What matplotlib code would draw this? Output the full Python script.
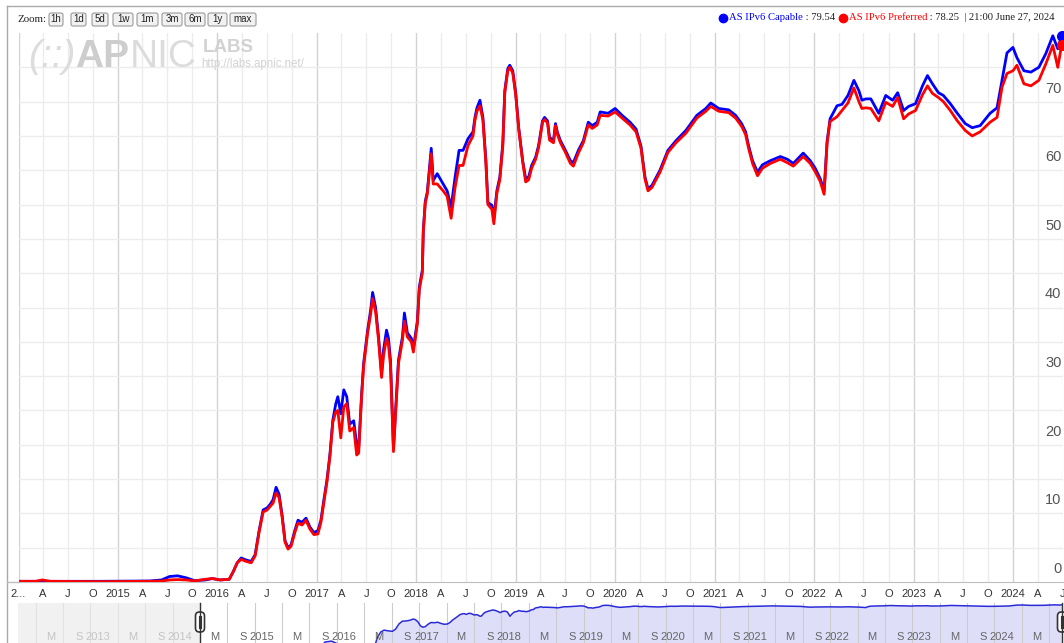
import matplotlib
matplotlib.use("Agg")
import matplotlib.pyplot as plt
from matplotlib.lines import Line2D
from matplotlib.patches import FancyBboxPatch
from matplotlib.transforms import IdentityTransform, blended_transform_factory, offset_copy
from datetime import datetime

W, H = 1064, 643

# samples (decimal years), AS IPv6 capable / preferred in %
years = [2014.00, 2014.17, 2014.24, 2014.32, 2014.82, 2015.32, 2015.44, 2015.52, 2015.60, 2015.69,
         2015.77, 2015.88, 2015.95, 2016.03, 2016.12, 2016.16, 2016.20, 2016.24, 2016.29, 2016.34,
         2016.38, 2016.42, 2016.46, 2016.50, 2016.53, 2016.56, 2016.59, 2016.62, 2016.65, 2016.68,
         2016.71, 2016.74, 2016.78, 2016.81, 2016.85, 2016.89, 2016.93, 2016.97, 2017.01, 2017.04,
         2017.07, 2017.10, 2017.13, 2017.16, 2017.19, 2017.21, 2017.24, 2017.27, 2017.30, 2017.33,
         2017.37, 2017.40, 2017.42, 2017.45, 2017.47, 2017.51, 2017.54, 2017.56, 2017.59, 2017.62,
         2017.65, 2017.67, 2017.70, 2017.72, 2017.74, 2017.77, 2017.79, 2017.82, 2017.86, 2017.88,
         2017.91, 2017.95, 2017.97, 2018.01, 2018.03, 2018.06, 2018.07, 2018.09, 2018.11, 2018.15,
         2018.17, 2018.21, 2018.27, 2018.31, 2018.35, 2018.39, 2018.43, 2018.47, 2018.52, 2018.57,
         2018.59, 2018.61, 2018.64, 2018.67, 2018.70, 2018.72, 2018.76, 2018.78, 2018.81, 2018.84,
         2018.87, 2018.89, 2018.92, 2018.94, 2018.97, 2019.00, 2019.03, 2019.07, 2019.10, 2019.13,
         2019.16, 2019.20, 2019.23, 2019.27, 2019.29, 2019.32, 2019.34, 2019.38, 2019.40, 2019.42,
         2019.45, 2019.50, 2019.55, 2019.58, 2019.63, 2019.68, 2019.73, 2019.77, 2019.82, 2019.85,
         2019.93, 2020.00, 2020.07, 2020.15, 2020.21, 2020.26, 2020.30, 2020.33, 2020.37, 2020.45,
         2020.53, 2020.61, 2020.71, 2020.76, 2020.82, 2020.91, 2020.96, 2021.04, 2021.14, 2021.21,
         2021.27, 2021.31, 2021.34, 2021.38, 2021.43, 2021.48, 2021.56, 2021.66, 2021.73, 2021.79,
         2021.89, 2021.96, 2022.01, 2022.06, 2022.10, 2022.13, 2022.16, 2022.23, 2022.28, 2022.34,
         2022.40, 2022.45, 2022.48, 2022.52, 2022.57, 2022.65, 2022.72, 2022.79, 2022.84, 2022.90,
         2022.95, 2023.02, 2023.09, 2023.14, 2023.19, 2023.25, 2023.30, 2023.37, 2023.44, 2023.52,
         2023.59, 2023.67, 2023.77, 2023.84, 2023.89, 2023.94, 2024.00, 2024.04, 2024.11, 2024.18,
         2024.26, 2024.33, 2024.40, 2024.45, 2024.488]

capable = [0.1, 0.1, 0.1, 0.1, 0.1, 0.15, 0.3, 0.8, 0.9, 0.6,
           0.2, 0.3, 0.5, 0.3, 0.4, 1.5, 2.8, 3.5, 3.2, 3.0,
           4.0, 7.5, 10.5, 10.8, 11.3, 12.0, 13.8, 12.8, 9.8, 6.0,
           5.0, 5.4, 7.6, 9.0, 8.7, 9.3, 8.0, 7.2, 7.5, 9.0,
           12.0, 14.8, 18.5, 23.6, 26.0, 27.0, 24.5, 28.0, 27.0, 23.0,
           23.5, 20.0, 19.5, 27.5, 31.9, 36.7, 39.6, 42.2, 40.0, 35.7,
           30.4, 33.8, 36.7, 35.5, 32.3, 19.5, 24.6, 32.3, 35.7, 39.2,
           36.3, 35.5, 34.0, 38.0, 43.0, 45.4, 51.2, 55.5, 56.8, 63.2,
           58.5, 59.5, 58.0, 57.0, 54.6, 59.0, 62.9, 62.9, 64.6, 65.6,
           67.7, 69.1, 70.2, 67.7, 61.4, 55.3, 54.9, 52.9, 57.0, 59.0,
           63.9, 71.6, 74.8, 75.3, 74.5, 71.2, 66.2, 61.4, 58.8, 59.0,
           60.7, 61.9, 63.6, 67.2, 67.7, 67.2, 64.8, 64.3, 66.8, 65.5,
           64.3, 62.9, 61.4, 61.1, 62.9, 64.3, 67.0, 66.5, 67.0, 68.5,
           68.3, 69.0, 68.0, 67.0, 66.0, 63.5, 59.0, 57.3, 57.8, 60.0,
           62.9, 64.3, 65.8, 66.8, 68.0, 69.0, 69.8, 69.0, 68.8, 68.0,
           66.8, 65.6, 63.6, 61.4, 59.7, 60.8, 61.4, 62.0, 61.6, 61.0,
           62.5, 61.4, 60.3, 58.8, 57.0, 64.2, 67.5, 69.4, 69.6, 70.9,
           73.1, 71.6, 70.2, 70.4, 70.4, 68.3, 70.9, 70.2, 71.3, 68.7,
           69.3, 69.7, 72.3, 73.8, 72.6, 71.3, 70.9, 69.7, 68.3, 66.8,
           66.2, 66.5, 68.3, 69.1, 73.1, 77.1, 77.9, 76.4, 74.5, 74.3,
           75.0, 77.0, 79.6, 77.7, 79.54]

preferred = [0.1, 0.1, 0.3, 0.1, 0.05, 0.1, 0.15, 0.3, 0.35, 0.3,
             0.15, 0.4, 0.5, 0.3, 0.4, 1.5, 2.8, 3.3, 3.0, 2.8,
             3.8, 7.3, 10.2, 10.5, 11.0, 11.5, 13.0, 12.3, 9.5, 5.8,
             4.8, 5.2, 7.3, 8.6, 8.3, 9.0, 7.7, 6.9, 7.0, 8.7,
             11.6, 14.5, 18.2, 23.3, 24.8, 25.0, 21.0, 25.5, 26.0, 22.0,
             22.5, 18.5, 18.8, 27.2, 31.5, 36.3, 39.0, 41.3, 39.4, 35.2,
             29.8, 33.0, 35.5, 34.5, 31.5, 19.0, 24.2, 31.8, 35.2, 38.0,
             35.7, 35.0, 33.5, 37.6, 42.6, 45.0, 51.0, 55.2, 56.5, 62.4,
             58.0, 58.0, 57.0, 56.2, 53.0, 57.5, 60.7, 60.7, 63.6, 65.0,
             67.3, 68.6, 69.4, 67.3, 61.0, 55.0, 54.3, 52.2, 56.6, 58.6,
             63.5, 71.3, 74.5, 75.0, 74.2, 71.0, 66.0, 61.2, 58.3, 58.6,
             60.3, 61.6, 63.3, 67.0, 67.4, 66.9, 64.4, 64.0, 66.5, 65.2,
             64.0, 62.6, 61.0, 60.6, 62.5, 64.0, 66.6, 66.1, 66.6, 68.0,
             67.9, 68.5, 67.6, 66.6, 65.6, 63.2, 58.7, 57.0, 57.5, 59.7,
             62.6, 64.0, 65.4, 66.4, 67.6, 68.6, 69.3, 68.6, 68.4, 67.6,
             66.4, 65.2, 63.2, 61.0, 59.2, 60.3, 61.0, 61.6, 61.1, 60.6,
             62.0, 61.0, 59.8, 58.4, 56.5, 63.9, 67.1, 67.8, 68.7, 69.8,
             72.0, 70.0, 69.0, 69.1, 69.0, 67.2, 69.9, 69.3, 70.6, 67.5,
             68.2, 68.7, 71.0, 72.3, 71.2, 70.6, 70.0, 68.7, 67.2, 65.8,
             65.0, 65.6, 67.0, 67.7, 72.1, 74.1, 74.5, 75.3, 72.6, 72.3,
             73.1, 75.5, 78.2, 75.0, 78.25]

y_labels = [0, 10, 20, 30, 40, 50, 60, 70]
zoom_buttons = ["1h", "1d", "5d", "1w", "1m", "3m", "6m", "1y", "max"]
button_edges = [(49, 63), (71, 86), (92, 108), (113, 133), (137, 158), (162, 182), (185, 205), (208, 227), (230, 256)]


def to_date(y):
    yr = int(y)
    start = datetime(yr, 1, 1)
    return start + (datetime(yr + 1, 1, 1) - start) * (y - yr)


def box(x0, y0, x1, y1):
    return [x0 / W, 1 - y1 / H, (x1 - x0) / W, (y1 - y0) / H]


dates = [to_date(y) for y in years]

plt.rcParams['font.family'] = ['Liberation Sans', 'DejaVu Sans']
fig = plt.figure(figsize=(W / 100, H / 100), dpi=100)
px = IdentityTransform()

# ---- main chart
ax = fig.add_axes(box(18.5, 33, 1062.5, 582))
ax.set_xlim(datetime(2014, 1, 1), datetime(2024, 7, 1))
ax.set_ylim(0, 80)
for s in ['top', 'right', 'left']:
    ax.spines[s].set_visible(False)
ax.spines['bottom'].set_color('#bdbdbd')
ax.set_yticks([])

quarters = [datetime(y, m, 1) for y in range(2014, 2025) for m in (1, 4, 7, 10)]
quarters = [d for d in quarters if d <= datetime(2024, 7, 1)]
qnames = {4: 'A', 7: 'J', 10: 'O'}
qlabels = [str(d.year) if d.month == 1 else qnames[d.month] for d in quarters]
qlabels[0] = '2...'
for d in quarters:
    ax.axvline(d, color='#d2d2d2' if d.month == 1 else '#ececec', lw=1, zorder=0)
for v in range(5, 80, 5):
    ax.axhline(v, color='#ececec', lw=1, zorder=0)
ax.set_xticks(quarters)
ax.set_xticklabels(qlabels, fontsize=8, color='#333333')
ax.tick_params(axis='x', length=0, pad=5)

ytr = blended_transform_factory(ax.transAxes, ax.transData)
for v in y_labels:
    ax.text(0.999, v + 1.9, str(v), transform=ytr, ha='right', va='center',
            fontsize=10.5, color='#555555')

ax.plot(dates, capable, color='#0000ff', lw=2.0, solid_joinstyle='round', zorder=3)
ax.plot(dates, preferred, color='#ff0000', lw=2.0, solid_joinstyle='round', zorder=4)
ax.plot(dates[-1], capable[-1], 'o', color='#0000ff', ms=7, clip_on=False, zorder=5)
ax.plot(dates[-1], preferred[-1], 'o', color='#ff0000', ms=7, clip_on=False, zorder=5)

# ---- range selector
sel = fig.add_axes(box(18, 603, 1064, 650))
sel_left, sel_right = to_date(2011.786), to_date(2024.511)
sel.set_xlim(sel_left, sel_right)
sel.set_yscale('log')
sel.set_ylim(0.3, 100)
sel.axis('off')
sel.fill_between(dates, capable, 0.01, color='#dedef9', lw=0, zorder=1)
sel.plot(dates, capable, color='#2a2ad8', lw=1.1, zorder=2)
sel.axvspan(sel_left, datetime(2014, 1, 1), color='#ececec', alpha=0.7, lw=0, zorder=3)

sel_ticks = [datetime(y, m, 1) for y in range(2012, 2025) for m in (1, 5, 9)]
sel_ticks = [d for d in sel_ticks if sel_left < d < sel_right]
ltr = offset_copy(blended_transform_factory(sel.transData, sel.transAxes), fig=fig, x=-8, y=0, units='dots')
for d in sel_ticks:
    sel.axvline(d, color='#cccccc', lw=0.8, zorder=1.5)
    if d == datetime(2012, 1, 1):
        continue
    name = str(d.year) if d.month == 1 else ('M' if d.month == 5 else 'S')
    col = '#c4c4c4' if d <= datetime(2014, 1, 1) else '#666666'
    sel.text(d, 0.28, name, transform=ltr, ha='right', va='center', fontsize=8, color=col, zorder=4)

for hx in (200, 1062):
    fig.add_artist(Line2D([hx, hx], [H - 603, 0], color='#333333', lw=1, transform=px))
    fig.add_artist(FancyBboxPatch((hx - 4.5, H - 632), 9, 20, boxstyle='round,pad=0,rounding_size=4',
                                  fc='white', ec='#333333', lw=1.2, transform=px))
    for dx in (-1.2, 1.2):
        fig.add_artist(Line2D([hx + dx, hx + dx], [H - 628, H - 616], color='#333333', lw=0.8, transform=px))

# ---- frame
fig.add_artist(Line2D([7, W], [H - 6, H - 6], color='#aaaaaa', lw=1, transform=px))
fig.add_artist(Line2D([7, 7], [H - 6, 0], color='#aaaaaa', lw=1, transform=px))
fig.add_artist(Line2D([7, 18.5], [H - 582, H - 582], color='#bdbdbd', lw=1, transform=px))

# ---- zoom buttons
fig.text(17, H - 19, 'Zoom:', transform=px, family='Liberation Serif', fontsize=7.8,
         color='#222222', va='center')
for name, (x0, x1) in zip(zoom_buttons, button_edges):
    fig.add_artist(FancyBboxPatch((x0, H - 26), x1 - x0, 13, boxstyle='round,pad=0,rounding_size=2',
                                  fc='#f1f1f1', ec='#9a9a9a', lw=0.8, transform=px))
    fig.text((x0 + x1) / 2, H - 19.5, name, transform=px, fontsize=7, color='#222222',
             ha='center', va='center')

renderer = fig.canvas.get_renderer()


def chain(x, y, parts, **kw):
    for s, c, extra in parts:
        opts = dict(kw)
        opts.update(extra)
        t = fig.text(x, y, s, transform=px, color=c, **opts)
        x = t.get_window_extent(renderer).x1
    return x


# ---- legend
ly = H - 18
fig.add_artist(Line2D([723], [ly], marker='o', ms=6, color='#0000ff', transform=px))
xe = chain(729, ly, [('AS IPv6 Capable', '#0000ff', {}), (' : 79.54', '#222222', {})],
           family='Liberation Serif', fontsize=7.65, va='center')
fig.add_artist(Line2D([xe + 8], [ly], marker='o', ms=6, color='#ff0000', transform=px))
chain(xe + 14, ly, [('AS IPv6 Preferred', '#ff0000', {}), (' : 78.25  | 21:00 June 27, 2024', '#222222', {})],
      family='Liberation Serif', fontsize=7.65, va='center')

# ---- watermark
xe = chain(28, H - 67, [('(::)', '#dcdcdc', {'style': 'italic'}),
                        ('AP', '#cdcdcd', {'weight': 'bold'}),
                        ('NIC', '#dcdcdc', {})],
           fontsize=28, va='baseline')
fig.text(203, H - 52, 'LABS', transform=px, fontsize=13.5, weight='bold', color='#d2d2d2', va='baseline')
fig.text(201, H - 67, 'http://labs.apnic.net/', transform=px, fontsize=8.3, color='#d2d2d2', va='baseline')

fig.savefig('out.png', dpi=100, facecolor='white')
